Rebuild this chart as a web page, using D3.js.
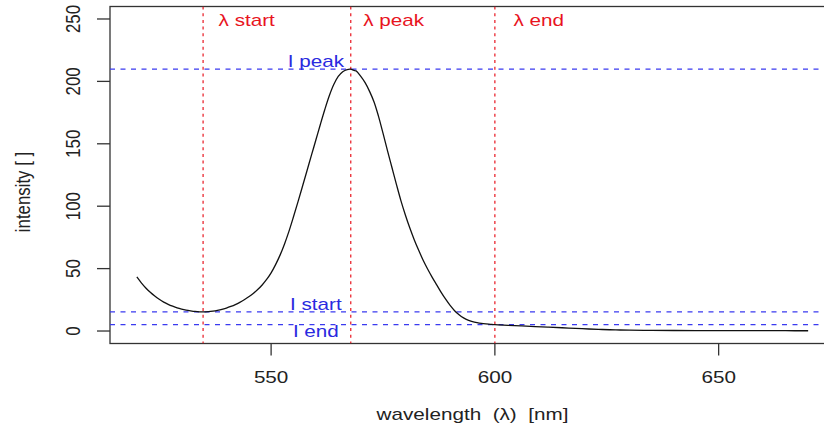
<!DOCTYPE html>
<html>
<head>
<meta charset="utf-8">
<script src="https://cdn.jsdelivr.net/npm/d3@7"></script>
<style>
  html, body { margin: 0; padding: 0; background: #fff; }
  svg { display: block; }
  text { font-family: "Liberation Sans", Arial, Helvetica, sans-serif; white-space: pre; }
</style>
</head>
<body>
<svg id="chart" width="824" height="430"></svg>
<script>
// Emission spectrum: wavelength (nm) and measured intensity
const wavelengths = [
  520, 521, 522, 523, 524, 525, 526, 527, 528, 529,
  530, 531, 532, 533, 534, 534.8, 536, 537, 538, 539,
  540, 541, 542, 543, 544, 545, 546, 547, 548, 549,
  550, 551, 552, 553, 554, 555, 556, 557, 558, 559,
  560, 561, 562, 563, 564, 565, 566, 567, 567.8, 568.5,
  569, 570, 571, 572, 573, 574, 575, 576, 577, 578,
  579, 580, 581, 582, 583, 584, 585, 586, 587, 588,
  589, 590, 591, 592, 593, 594, 595, 596, 597, 598,
  599, 600, 603, 606, 609, 612, 615, 618, 621, 624,
  627, 630, 635, 640, 645, 650, 655, 660, 665, 670
];
const intensities = [
  43.3, 38.6, 34.5, 31.0, 28.0, 25.4, 23.2, 21.4, 19.9, 18.6,
  17.6, 16.8, 16.2, 15.7, 15.4, 15.3, 15.5, 15.9, 16.5, 17.3,
  18.4, 19.7, 21.2, 23.0, 25.1, 27.4, 30.1, 33.2, 36.9, 41.3,
  46.6, 53.2, 60.8, 69.8, 80.0, 91.5, 103.5, 115.8, 128.2, 140.7,
  153.0, 165.5, 177.5, 188.5, 197.5, 204.0, 207.8, 209.5, 209.8, 208.8,
  208.4, 204.2, 199.0, 192.0, 183.5, 172.0, 158.5, 144.5, 131.0, 117.5,
  104.5, 93.0, 82.5, 73.0, 64.5, 56.5, 49.5, 43.0, 37.0, 31.0,
  25.5, 20.5, 16.3, 13.0, 10.5, 8.7, 7.5, 6.7, 6.1, 5.7,
  5.4, 5.1, 4.6, 4.1, 3.6, 3.1, 2.6, 2.1, 1.6, 1.2,
  0.9, 0.7, 0.5, 0.4, 0.35, 0.3, 0.3, 0.25, 0.25, 0.2
];

// Characteristic points of the band
const markerNames = ["start", "peak", "end"];
const markerWavelengths = [534.8, 567.8, 600];

// Axis ticks
const xTicks = [550, 600, 650];
const yTicks = [0, 50, 100, 150, 200, 250];

const xDomain = [514, 676];
const yDomain = [-10, 260];

const svg = d3.select("#chart");
const plot = { left: 110, right: 835, top: 6.5, bottom: 343.5 };

const x = d3.scaleLinear().domain(xDomain).range([plot.left, plot.right]);
const y = d3.scaleLinear().domain(yDomain).range([plot.bottom, plot.top]);

const data = wavelengths.map((w, i) => ({ w, v: intensities[i] }));
const valueAt = w => intensities[wavelengths.indexOf(w)];

const FONT = 16.8;
const SX = 1.23;   // horizontal stretch of the rendered device
const axisColor = "#333";
const red = "#e8141e";
const blue = "#3a3af0";

function label(parent, px, py, str, opts = {}) {
  return parent.append("text")
    .attr("transform", `translate(${px},${py}) scale(${SX},1)` + (opts.rotate ? " rotate(-90)" : ""))
    .attr("font-size", opts.size || FONT)
    .attr("text-anchor", opts.anchor || "middle")
    .attr("fill", opts.color || "#222")
    .attr("xml:space", "preserve")
    .text(str);
}

// Plot box
svg.append("rect")
  .attr("x", plot.left).attr("y", plot.top)
  .attr("width", plot.right - plot.left).attr("height", plot.bottom - plot.top)
  .attr("fill", "none").attr("stroke", axisColor).attr("stroke-width", 1.3);

// X axis ticks and labels
const xAxisG = svg.append("g");
xAxisG.selectAll("line").data(xTicks).join("line")
  .attr("x1", d => x(d)).attr("x2", d => x(d))
  .attr("y1", plot.bottom).attr("y2", plot.bottom + 12)
  .attr("stroke", axisColor).attr("stroke-width", 1.3);
xTicks.forEach(d => label(xAxisG, x(d), 383, d3.format("d")(d)));

// Y axis ticks and labels
const yAxisG = svg.append("g");
yAxisG.selectAll("line").data(yTicks).join("line")
  .attr("x1", plot.left - 13).attr("x2", plot.left)
  .attr("y1", d => y(d)).attr("y2", d => y(d))
  .attr("stroke", axisColor).attr("stroke-width", 1.3);
yTicks.forEach(d => label(yAxisG, 79.5, y(d), d3.format("d")(d), { rotate: true }));

// Axis titles
label(svg, (plot.left + plot.right) / 2, 420, "wavelength  (λ)  [nm]");
label(svg, 30, 192, "intensity [ ]", { rotate: true });

// Clip region for reference lines
svg.append("clipPath").attr("id", "plotClip")
  .append("rect")
  .attr("x", plot.left).attr("y", plot.top)
  .attr("width", plot.right - plot.left).attr("height", plot.bottom - plot.top);

const refG = svg.append("g").attr("clip-path", "url(#plotClip)");

// Vertical wavelength markers (dotted red)
refG.selectAll("line.vmark").data(markerWavelengths).join("line")
  .attr("class", "vmark")
  .attr("x1", d => x(d)).attr("x2", d => x(d))
  .attr("y1", plot.top).attr("y2", plot.bottom)
  .attr("stroke", red).attr("stroke-width", 1.2)
  .attr("stroke-dasharray", "3,3.7");

// Horizontal intensity markers (dashed blue)
const markerIntensities = markerWavelengths.map(valueAt);
refG.selectAll("line.hmark").data(markerIntensities).join("line")
  .attr("class", "hmark")
  .attr("x1", plot.left).attr("x2", plot.right)
  .attr("y1", d => y(d)).attr("y2", d => y(d))
  .attr("stroke", blue).attr("stroke-width", 1.2)
  .attr("stroke-dasharray", "5,5.5");

// Spectrum curve
svg.append("path")
  .datum(data)
  .attr("fill", "none")
  .attr("stroke", "#111")
  .attr("stroke-width", 1.3)
  .attr("stroke-linejoin", "round")
  .attr("d", d3.line().x(d => x(d.w)).y(d => y(d.v)).curve(d3.curveCatmullRom.alpha(0.5)));

// Marker labels: wavelengths at the top, intensities near their lines
const lambdaOffsets = [15.5, 12.5, 18.5];
markerNames.forEach((n, i) => {
  label(svg, x(markerWavelengths[i]) + lambdaOffsets[i], 26, "λ " + n,
        { anchor: "start", color: red });
});
const iLabelX = x(560);
label(svg, iLabelX, y(markerIntensities[1]) - 2.5, "I peak", { color: "#2a2ae0" });
label(svg, iLabelX, y(markerIntensities[0]) - 1.5, "I start", { color: "#2a2ae0" });
label(svg, iLabelX, y(markerIntensities[2]) + 12, "I end", { color: "#2a2ae0" });
</script>
</body>
</html>
